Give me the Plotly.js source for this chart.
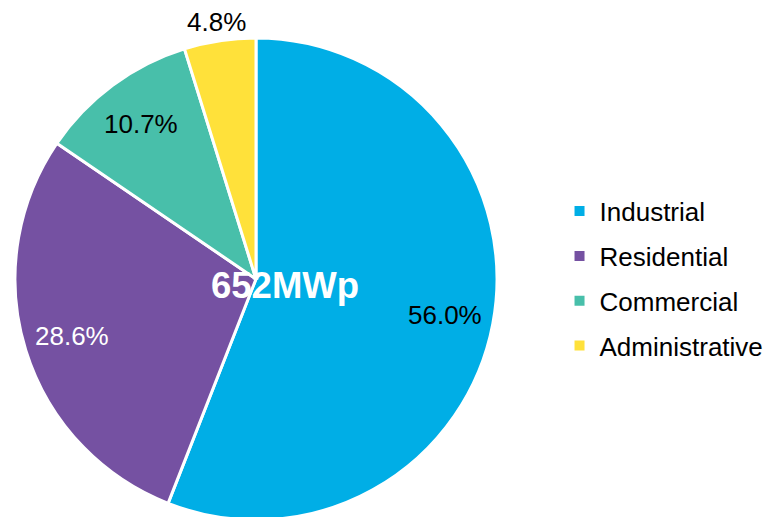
<!DOCTYPE html>
<html>
<head>
<meta charset="utf-8">
<script src="https://cdn.plot.ly/plotly-3.0.1.min.js"></script>
<style>
html, body { margin: 0; padding: 0; overflow: hidden; background: #fff; }
#chart { width: 769px; height: 520px; }
</style>
</head>
<body>
<div id="chart"></div>
<script>
const categories = ["Industrial", "Residential", "Commercial", "Administrative"];
const shares = [56.0, 28.6, 10.7, 4.8];
const sliceColors = ["#00AEE6", "#7551A2", "#48BFAA", "#FFE13A"];
const labelColors = ["#000000", "#FFFFFF", "#000000", "#000000"];
const labelOutside = [false, false, false, true];
const centerLabel = "652MWp";

const FONT = "Liberation Sans, Arial, sans-serif";

// Figure geometry (pixels) used for the pie domain and data-label placement
const W = 769, H = 520;
const CX = 256, CY = 279, R = 241;

const pie = {
  type: "pie",
  labels: categories,
  values: shares,
  sort: false,
  direction: "clockwise",
  rotation: 0,
  marker: { colors: sliceColors, line: { color: "#FFFFFF", width: 3 } },
  textinfo: "none",
  hoverinfo: "label+value",
  showlegend: false,
  domain: { x: [(CX - R) / W, (CX + R) / W], y: [(H - CY - R) / H, (H - CY + R) / H] }
};

const legendTraces = categories.map((c, i) => ({
  type: "scatter",
  mode: "markers",
  x: [null],
  y: [null],
  name: c,
  legendgroup: "g" + i,
  marker: { symbol: "square", size: 10, color: sliceColors[i] },
  hoverinfo: "skip"
}));

// data labels along each slice bisector, computed from the shares
const total = shares.reduce((a, b) => a + b, 0);
let cum = 0;
const labelAnnotations = shares.map((v, i) => {
  const mid = (cum + v / 2) / total * 2 * Math.PI;
  cum += v;
  const rr = R * (labelOutside[i] ? 1.08 : 0.80);
  const px = CX + rr * Math.sin(mid);
  const py = CY - rr * Math.cos(mid);
  return {
    text: v.toFixed(1) + "%",
    xref: "paper", yref: "paper",
    x: px / W, y: (H - py) / H,
    xanchor: "center", yanchor: "middle",
    showarrow: false,
    font: { family: FONT, size: 26, color: labelColors[i] }
  };
});

const layout = {
  width: W,
  height: H,
  margin: { l: 0, r: 0, t: 0, b: 0 },
  paper_bgcolor: "#FFFFFF",
  plot_bgcolor: "#FFFFFF",
  xaxis: { visible: false },
  yaxis: { visible: false },
  showlegend: true,
  legend: {
    x: 0.7276, y: 0.639, xanchor: "left", yanchor: "top",
    font: { family: FONT, size: 26, color: "#000000" },
    tracegroupgap: 8,
    traceorder: "grouped",
    bgcolor: "rgba(0,0,0,0)"
  },
  annotations: labelAnnotations.concat([{
    text: centerLabel,
    xref: "paper", yref: "paper",
    x: 285 / W, y: (H - 285) / H,
    xanchor: "center", yanchor: "middle",
    showarrow: false,
    font: { family: FONT, size: 36.5, color: "#FFFFFF", weight: "bold" }
  }])
};

Plotly.newPlot("chart", [pie].concat(legendTraces), layout, { displayModeBar: false, staticPlot: true });
</script>
</body>
</html>
